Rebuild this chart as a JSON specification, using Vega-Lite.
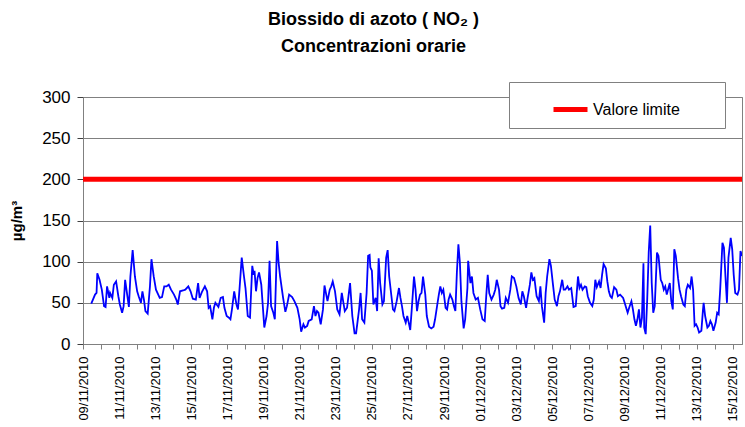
{
  "$schema": "https://vega.github.io/schema/vega-lite/v6.json",
  "width": 659,
  "height": 247,
  "autosize": {"type": "none"},
  "padding": {"left": 83, "top": 97, "right": 3, "bottom": 83},
  "background": "white",
  "config": {
    "font": "Liberation Sans",
    "view": {"stroke": "#808080", "strokeWidth": 1},
    "axis": {"labelColor": "#000000", "titleColor": "#000000", "labelFont": "Liberation Sans", "titleFont": "Liberation Sans"},
    "axisY": {
      "title": "µg/m³",
      "titleFontSize": 15,
      "titleFontWeight": "bold",
      "titlePadding": 17,
      "values": [0, 50, 100, 150, 200, 250, 300],
      "labelFontSize": 17,
      "labelPadding": 7,
      "tickSize": 6,
      "tickColor": "#404040",
      "domainColor": "#808080",
      "grid": true,
      "gridColor": "#808080",
      "gridOpacity": 1
    }
  },
  "title": {
    "text": ["Biossido di azoto ( NO₂ )", "Concentrazioni orarie"],
    "font": "Liberation Sans",
    "fontSize": 18,
    "fontWeight": "bold",
    "color": "#000000",
    "lineHeight": 27,
    "anchor": "middle",
    "dx": -39,
    "offset": 26
  },
  "datasets": {
    "no2": [
      {"t":"2010-11-09T11:00","v":49},{"t":"2010-11-09T16:00","v":60},{"t":"2010-11-09T18:00","v":62},{"t":"2010-11-09T19:00","v":86},{"t":"2010-11-09T22:00","v":78},
      {"t":"2010-11-10T01:00","v":66},{"t":"2010-11-10T04:00","v":46},{"t":"2010-11-10T06:00","v":45},{"t":"2010-11-10T08:00","v":70},{"t":"2010-11-10T11:00","v":56},{"t":"2010-11-10T12:00","v":62},{"t":"2010-11-10T15:00","v":56},{"t":"2010-11-10T17:00","v":72},{"t":"2010-11-10T20:00","v":76},{"t":"2010-11-10T23:00","v":58},
      {"t":"2010-11-11T01:00","v":48},{"t":"2010-11-11T04:00","v":38},{"t":"2010-11-11T06:00","v":46},{"t":"2010-11-11T08:00","v":78},{"t":"2010-11-11T11:00","v":58},{"t":"2010-11-11T13:00","v":45},{"t":"2010-11-11T15:00","v":82},{"t":"2010-11-11T18:00","v":114},{"t":"2010-11-11T21:00","v":82},
      {"t":"2010-11-12T00:00","v":64},{"t":"2010-11-12T02:00","v":58},{"t":"2010-11-12T05:00","v":50},{"t":"2010-11-12T07:00","v":64},{"t":"2010-11-12T09:00","v":54},{"t":"2010-11-12T11:00","v":40},{"t":"2010-11-12T14:00","v":37},{"t":"2010-11-12T17:00","v":70},{"t":"2010-11-12T19:00","v":103},{"t":"2010-11-12T22:00","v":82},
      {"t":"2010-11-13T01:00","v":66},{"t":"2010-11-13T06:00","v":56},{"t":"2010-11-13T09:00","v":57},{"t":"2010-11-13T12:00","v":70},{"t":"2010-11-13T15:00","v":70},{"t":"2010-11-13T18:00","v":72},{"t":"2010-11-13T21:00","v":66},
      {"t":"2010-11-14T01:00","v":60},{"t":"2010-11-14T04:00","v":54},{"t":"2010-11-14T06:00","v":48},{"t":"2010-11-14T09:00","v":64},{"t":"2010-11-14T13:00","v":65},{"t":"2010-11-14T16:00","v":66},{"t":"2010-11-14T20:00","v":70},{"t":"2010-11-14T23:00","v":64},
      {"t":"2010-11-15T02:00","v":55},{"t":"2010-11-15T06:00","v":54},{"t":"2010-11-15T09:00","v":74},{"t":"2010-11-15T11:00","v":56},{"t":"2010-11-15T14:00","v":63},{"t":"2010-11-15T18:00","v":70},{"t":"2010-11-15T21:00","v":64},{"t":"2010-11-15T23:00","v":44},
      {"t":"2010-11-16T01:00","v":46},{"t":"2010-11-16T04:00","v":30},{"t":"2010-11-16T06:00","v":44},{"t":"2010-11-16T08:00","v":50},{"t":"2010-11-16T12:00","v":45},{"t":"2010-11-16T15:00","v":56},{"t":"2010-11-16T18:00","v":57},{"t":"2010-11-16T20:00","v":44},{"t":"2010-11-16T23:00","v":34},
      {"t":"2010-11-17T02:00","v":32},{"t":"2010-11-17T04:00","v":30},{"t":"2010-11-17T06:00","v":42},{"t":"2010-11-17T09:00","v":64},{"t":"2010-11-17T12:00","v":48},{"t":"2010-11-17T14:00","v":42},{"t":"2010-11-17T16:00","v":66},{"t":"2010-11-17T19:00","v":105},{"t":"2010-11-17T22:00","v":82},
      {"t":"2010-11-18T00:00","v":68},{"t":"2010-11-18T03:00","v":34},{"t":"2010-11-18T06:00","v":32},{"t":"2010-11-18T09:00","v":95},{"t":"2010-11-18T11:00","v":84},{"t":"2010-11-18T12:00","v":89},{"t":"2010-11-18T14:00","v":64},{"t":"2010-11-18T16:00","v":80},{"t":"2010-11-18T18:00","v":87},{"t":"2010-11-18T21:00","v":72},{"t":"2010-11-18T23:00","v":46},
      {"t":"2010-11-19T01:00","v":20},{"t":"2010-11-19T04:00","v":34},{"t":"2010-11-19T06:00","v":50},{"t":"2010-11-19T08:00","v":101},{"t":"2010-11-19T10:00","v":46},{"t":"2010-11-19T13:00","v":38},{"t":"2010-11-19T15:00","v":30},{"t":"2010-11-19T18:00","v":125},{"t":"2010-11-19T20:00","v":99},{"t":"2010-11-19T22:00","v":82},
      {"t":"2010-11-20T02:00","v":56},{"t":"2010-11-20T05:00","v":39},{"t":"2010-11-20T07:00","v":46},{"t":"2010-11-20T10:00","v":60},{"t":"2010-11-20T14:00","v":57},{"t":"2010-11-20T17:00","v":52},{"t":"2010-11-20T21:00","v":44},
      {"t":"2010-11-21T00:00","v":30},{"t":"2010-11-21T02:00","v":15},{"t":"2010-11-21T05:00","v":24},{"t":"2010-11-21T07:00","v":20},{"t":"2010-11-21T10:00","v":22},{"t":"2010-11-21T12:00","v":28},{"t":"2010-11-21T16:00","v":30},{"t":"2010-11-21T19:00","v":46},{"t":"2010-11-21T21:00","v":34},{"t":"2010-11-21T23:00","v":40},
      {"t":"2010-11-22T01:00","v":38},{"t":"2010-11-22T04:00","v":24},{"t":"2010-11-22T07:00","v":42},{"t":"2010-11-22T09:00","v":71},{"t":"2010-11-22T13:00","v":52},{"t":"2010-11-22T16:00","v":66},{"t":"2010-11-22T18:00","v":70},{"t":"2010-11-22T20:00","v":76},{"t":"2010-11-22T23:00","v":64},
      {"t":"2010-11-23T02:00","v":42},{"t":"2010-11-23T05:00","v":36},{"t":"2010-11-23T08:00","v":62},{"t":"2010-11-23T12:00","v":40},{"t":"2010-11-23T15:00","v":44},{"t":"2010-11-23T19:00","v":74},{"t":"2010-11-23T22:00","v":34},
      {"t":"2010-11-24T01:00","v":13},{"t":"2010-11-24T03:00","v":13},{"t":"2010-11-24T07:00","v":42},{"t":"2010-11-24T09:00","v":62},{"t":"2010-11-24T11:00","v":30},{"t":"2010-11-24T14:00","v":26},{"t":"2010-11-24T17:00","v":62},{"t":"2010-11-24T19:00","v":107},{"t":"2010-11-24T21:00","v":108},{"t":"2010-11-24T22:00","v":93},
      {"t":"2010-11-25T00:00","v":89},{"t":"2010-11-25T02:00","v":48},{"t":"2010-11-25T05:00","v":56},{"t":"2010-11-25T07:00","v":40},{"t":"2010-11-25T09:00","v":104},{"t":"2010-11-25T11:00","v":74},{"t":"2010-11-25T14:00","v":48},{"t":"2010-11-25T16:00","v":52},{"t":"2010-11-25T19:00","v":105},{"t":"2010-11-25T21:00","v":114},{"t":"2010-11-25T23:00","v":82},
      {"t":"2010-11-26T02:00","v":58},{"t":"2010-11-26T04:00","v":42},{"t":"2010-11-26T06:00","v":40},{"t":"2010-11-26T09:00","v":52},{"t":"2010-11-26T12:00","v":68},{"t":"2010-11-26T14:00","v":56},{"t":"2010-11-26T16:00","v":46},{"t":"2010-11-26T18:00","v":34},{"t":"2010-11-26T21:00","v":26},{"t":"2010-11-26T23:00","v":34},
      {"t":"2010-11-27T01:00","v":26},{"t":"2010-11-27T03:00","v":17},{"t":"2010-11-27T05:00","v":42},{"t":"2010-11-27T08:00","v":82},{"t":"2010-11-27T10:00","v":66},{"t":"2010-11-27T12:00","v":40},{"t":"2010-11-27T14:00","v":52},{"t":"2010-11-27T16:00","v":60},{"t":"2010-11-27T18:00","v":62},{"t":"2010-11-27T20:00","v":82},{"t":"2010-11-27T23:00","v":60},
      {"t":"2010-11-28T01:00","v":34},{"t":"2010-11-28T04:00","v":21},{"t":"2010-11-28T07:00","v":19},{"t":"2010-11-28T10:00","v":21},{"t":"2010-11-28T12:00","v":30},{"t":"2010-11-28T15:00","v":48},{"t":"2010-11-28T17:00","v":60},{"t":"2010-11-28T19:00","v":70},{"t":"2010-11-28T21:00","v":62},{"t":"2010-11-28T23:00","v":66},
      {"t":"2010-11-29T02:00","v":44},{"t":"2010-11-29T04:00","v":42},{"t":"2010-11-29T06:00","v":54},{"t":"2010-11-29T08:00","v":60},{"t":"2010-11-29T11:00","v":54},{"t":"2010-11-29T13:00","v":46},{"t":"2010-11-29T15:00","v":40},{"t":"2010-11-29T17:00","v":87},{"t":"2010-11-29T19:00","v":121},{"t":"2010-11-29T21:00","v":99},{"t":"2010-11-29T23:00","v":52},
      {"t":"2010-11-30T02:00","v":19},{"t":"2010-11-30T04:00","v":30},{"t":"2010-11-30T07:00","v":68},{"t":"2010-11-30T08:00","v":101},{"t":"2010-11-30T11:00","v":74},{"t":"2010-11-30T13:00","v":82},{"t":"2010-11-30T15:00","v":62},{"t":"2010-11-30T18:00","v":54},{"t":"2010-11-30T21:00","v":56},
      {"t":"2010-12-01T00:00","v":42},{"t":"2010-12-01T03:00","v":30},{"t":"2010-12-01T06:00","v":28},{"t":"2010-12-01T08:00","v":58},{"t":"2010-12-01T10:00","v":84},{"t":"2010-12-01T12:00","v":62},{"t":"2010-12-01T15:00","v":54},{"t":"2010-12-01T18:00","v":60},{"t":"2010-12-01T20:00","v":66},{"t":"2010-12-01T22:00","v":78},
      {"t":"2010-12-02T01:00","v":66},{"t":"2010-12-02T03:00","v":46},{"t":"2010-12-02T05:00","v":43},{"t":"2010-12-02T08:00","v":44},{"t":"2010-12-02T10:00","v":56},{"t":"2010-12-02T13:00","v":50},{"t":"2010-12-02T16:00","v":66},{"t":"2010-12-02T18:00","v":82},{"t":"2010-12-02T21:00","v":80},
      {"t":"2010-12-03T00:00","v":70},{"t":"2010-12-03T03:00","v":56},{"t":"2010-12-03T06:00","v":48},{"t":"2010-12-03T08:00","v":64},{"t":"2010-12-03T10:00","v":58},{"t":"2010-12-03T13:00","v":44},{"t":"2010-12-03T15:00","v":56},{"t":"2010-12-03T18:00","v":72},{"t":"2010-12-03T20:00","v":87},{"t":"2010-12-03T22:00","v":78},
      {"t":"2010-12-04T00:00","v":80},{"t":"2010-12-04T03:00","v":58},{"t":"2010-12-04T06:00","v":52},{"t":"2010-12-04T08:00","v":70},{"t":"2010-12-04T10:00","v":46},{"t":"2010-12-04T13:00","v":26},{"t":"2010-12-04T15:00","v":62},{"t":"2010-12-04T17:00","v":82},{"t":"2010-12-04T20:00","v":103},{"t":"2010-12-04T22:00","v":95},
      {"t":"2010-12-05T01:00","v":70},{"t":"2010-12-05T03:00","v":54},{"t":"2010-12-05T06:00","v":46},{"t":"2010-12-05T08:00","v":58},{"t":"2010-12-05T10:00","v":64},{"t":"2010-12-05T13:00","v":78},{"t":"2010-12-05T15:00","v":66},{"t":"2010-12-05T17:00","v":66},{"t":"2010-12-05T20:00","v":70},{"t":"2010-12-05T22:00","v":66},
      {"t":"2010-12-06T01:00","v":68},{"t":"2010-12-06T04:00","v":45},{"t":"2010-12-06T07:00","v":46},{"t":"2010-12-06T10:00","v":82},{"t":"2010-12-06T12:00","v":68},{"t":"2010-12-06T14:00","v":72},{"t":"2010-12-06T16:00","v":66},{"t":"2010-12-06T19:00","v":70},{"t":"2010-12-06T21:00","v":69},{"t":"2010-12-06T23:00","v":58},
      {"t":"2010-12-07T02:00","v":50},{"t":"2010-12-07T05:00","v":46},{"t":"2010-12-07T07:00","v":54},{"t":"2010-12-07T09:00","v":78},{"t":"2010-12-07T11:00","v":69},{"t":"2010-12-07T14:00","v":76},{"t":"2010-12-07T16:00","v":68},{"t":"2010-12-07T18:00","v":84},{"t":"2010-12-07T20:00","v":97},{"t":"2010-12-07T23:00","v":92},
      {"t":"2010-12-08T01:00","v":76},{"t":"2010-12-08T03:00","v":64},{"t":"2010-12-08T05:00","v":58},{"t":"2010-12-08T07:00","v":56},{"t":"2010-12-08T10:00","v":69},{"t":"2010-12-08T13:00","v":66},{"t":"2010-12-08T15:00","v":58},{"t":"2010-12-08T18:00","v":60},{"t":"2010-12-08T22:00","v":56},
      {"t":"2010-12-09T00:00","v":50},{"t":"2010-12-09T02:00","v":44},{"t":"2010-12-09T04:00","v":38},{"t":"2010-12-09T06:00","v":44},{"t":"2010-12-09T09:00","v":52},{"t":"2010-12-09T11:00","v":42},{"t":"2010-12-09T13:00","v":30},{"t":"2010-12-09T15:00","v":22},{"t":"2010-12-09T17:00","v":30},{"t":"2010-12-09T19:00","v":42},{"t":"2010-12-09T21:00","v":20},{"t":"2010-12-09T23:00","v":32},
      {"t":"2010-12-10T01:00","v":98},{"t":"2010-12-10T02:00","v":20},{"t":"2010-12-10T04:00","v":12},{"t":"2010-12-10T06:00","v":54},{"t":"2010-12-10T08:00","v":111},{"t":"2010-12-10T10:00","v":144},{"t":"2010-12-10T12:00","v":74},{"t":"2010-12-10T14:00","v":38},{"t":"2010-12-10T16:00","v":46},{"t":"2010-12-10T19:00","v":111},{"t":"2010-12-10T21:00","v":107},
      {"t":"2010-12-11T00:00","v":78},{"t":"2010-12-11T02:00","v":74},{"t":"2010-12-11T04:00","v":66},{"t":"2010-12-11T06:00","v":70},{"t":"2010-12-11T08:00","v":60},{"t":"2010-12-11T12:00","v":74},{"t":"2010-12-11T14:00","v":52},{"t":"2010-12-11T16:00","v":42},{"t":"2010-12-11T18:00","v":115},{"t":"2010-12-11T20:00","v":107},{"t":"2010-12-11T23:00","v":80},
      {"t":"2010-12-12T01:00","v":66},{"t":"2010-12-12T03:00","v":58},{"t":"2010-12-12T06:00","v":48},{"t":"2010-12-12T08:00","v":46},{"t":"2010-12-12T10:00","v":66},{"t":"2010-12-12T12:00","v":72},{"t":"2010-12-12T15:00","v":68},{"t":"2010-12-12T17:00","v":82},{"t":"2010-12-12T19:00","v":66},{"t":"2010-12-12T21:00","v":22},{"t":"2010-12-12T23:00","v":24},
      {"t":"2010-12-13T01:00","v":20},{"t":"2010-12-13T03:00","v":14},{"t":"2010-12-13T06:00","v":16},{"t":"2010-12-13T08:00","v":40},{"t":"2010-12-13T09:00","v":50},{"t":"2010-12-13T11:00","v":34},{"t":"2010-12-13T14:00","v":20},{"t":"2010-12-13T16:00","v":22},{"t":"2010-12-13T18:00","v":28},{"t":"2010-12-13T20:00","v":24},{"t":"2010-12-13T22:00","v":16},
      {"t":"2010-12-14T01:00","v":26},{"t":"2010-12-14T03:00","v":38},{"t":"2010-12-14T05:00","v":36},{"t":"2010-12-14T07:00","v":66},{"t":"2010-12-14T10:00","v":123},{"t":"2010-12-14T12:00","v":117},{"t":"2010-12-14T14:00","v":82},{"t":"2010-12-14T16:00","v":50},{"t":"2010-12-14T18:00","v":105},{"t":"2010-12-14T21:00","v":129},{"t":"2010-12-14T23:00","v":115},
      {"t":"2010-12-15T01:00","v":84},{"t":"2010-12-15T03:00","v":62},{"t":"2010-12-15T06:00","v":60},{"t":"2010-12-15T08:00","v":66},{"t":"2010-12-15T10:00","v":113},{"t":"2010-12-15T12:00","v":107}
    ],
    "limite": [{"serie": "Valore limite", "v": 200}]
  },
  "layer": [
    {
      "data": {"name": "no2"},
      "mark": {"type": "line", "color": "#0000ff", "strokeWidth": 1.8, "clip": true},
      "encoding": {
        "x": {
          "field": "t", "type": "temporal",
          "scale": {"domain": [{"year": 2010, "month": 11, "date": 9}, {"year": 2010, "month": 12, "date": 15, "hours": 12}]},
          "axis": {
            "title": null,
            "tickCount": {"interval": "day", "step": 1},
            "labelExpr": "date(datum.value) % 2 == 1 ? timeFormat(datum.value, '%d/%m/%Y') : ''",
            "labelAngle": 270,
            "labelAlign": "right",
            "labelBaseline": "middle",
            "labelFontSize": 13,
            "labelPadding": 7,
            "labelOverlap": false,
            "labelBound": false,
            "labelFlush": false,
            "tickSize": 5,
            "tickColor": "#808080",
            "domainColor": "#808080",
            "grid": false
          }
        },
        "y": {
          "field": "v", "type": "quantitative",
          "scale": {"domain": [0, 300], "nice": false},
          "title": "µg/m³"
        }
      }
    },
    {
      "data": {"name": "limite"},
      "mark": {"type": "rule", "strokeWidth": 5},
      "encoding": {
        "y": {"field": "v", "type": "quantitative", "title": "µg/m³"},
        "color": {
          "field": "serie", "type": "nominal",
          "scale": {"range": ["#ff0000"]},
          "legend": {
            "title": "\u2003",
            "titleOrient": "right",
            "titlePadding": 37,
            "titleFontSize": 16,
            "orient": "none",
            "legendX": 426,
            "legendY": -15,
            "padding": 8,
            "strokeColor": "#808080",
            "fillColor": "#ffffff",
            "symbolType": "stroke",
            "symbolStrokeWidth": 5,
            "symbolSize": 1156,
            "symbolOffset": 34,
            "labelOffset": 3,
            "labelFontSize": 16,
            "labelColor": "#000000"
          }
        }
      }
    }
  ]
}
